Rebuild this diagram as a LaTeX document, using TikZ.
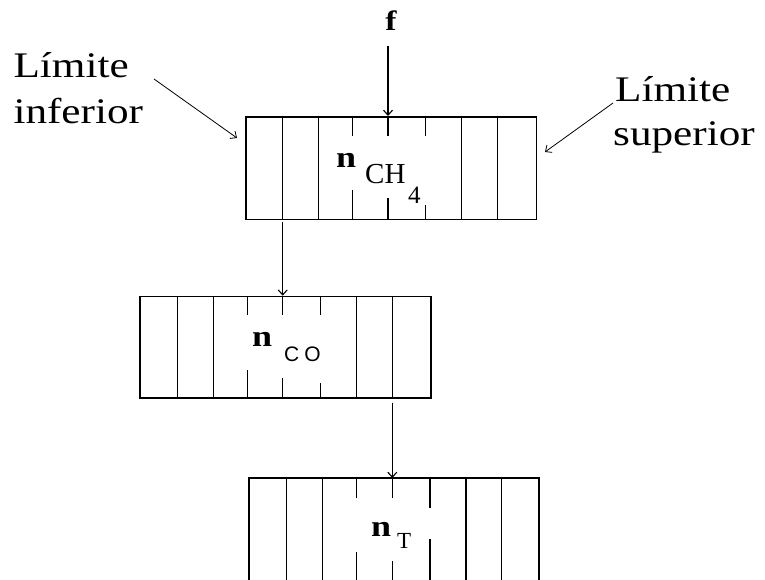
\documentclass[tikz,border=0pt]{standalone}
\usepackage{fontspec}
\setmainfont{Liberation Serif}
\newfontfamily\lbl[FakeStretch=1.2]{Liberation Serif}
\newfontfamily\sublbl{Liberation Sans}
\usetikzlibrary{arrows.meta}
\begin{document}
\begin{tikzpicture}[x=1pt,y=-1pt,
  boxline/.style={line width=1.5pt},
  cellbox/.style={draw,line width=1.5pt,inner sep=0pt,anchor=north west},
  conn/.style={line width=1.1pt,-{Straight Barb[length=5pt,width=9pt]}},
  bigtxt/.style={inner sep=0pt,anchor=base west,font=\lbl\fontsize{36}{40}\selectfont},
  ntxt/.style={inner sep=0pt,anchor=base west,font=\lbl\bfseries\fontsize{30}{32}\selectfont},
  subtxt/.style={inner sep=0pt,anchor=base west}]
\useasboundingbox (0,0) rectangle (765,579);
\fill[white] (0,0) rectangle (765,579);

% ---- box 1 ----
\node[cellbox,minimum width=290.5pt,minimum height=102.5pt] (b1) at (245,116) {};
\foreach \x in {282.7,318.7,461.7,497.3} \draw[boxline] (\x,116) -- (\x,218.5);
\foreach \x/\yb in {352.7/190,388/198,425.7/205} {
  \draw[boxline] (\x,116) -- (\x,136);
  \draw[boxline] (\x,\yb) -- (\x,218.5);
}
\node[ntxt] (n1) at (336,167) {n};
\node[subtxt,font=\fontsize{29}{32}\selectfont] (ch) at (365,183.5) {CH};
\node[subtxt,font=\fontsize{25}{28}\selectfont] (four) at (408,203) {4};

% ---- box 2 ----
\node[cellbox,minimum width=290.7pt,minimum height=101.6pt] (b2) at (139.3,295.7) {};
\foreach \x in {177.3,213.3,356.7,392.7} \draw[boxline] (\x,295.7) -- (\x,397.3);
\foreach \x/\yb in {247.3/370,282.7/378,320.7/383} {
  \draw[boxline] (\x,295.7) -- (\x,315);
  \draw[boxline] (\x,\yb) -- (\x,397.3);
}
\node[ntxt] (n2) at (252,346) {n};
\node[subtxt,font=\sublbl\fontsize{21}{23}\selectfont] (co) at (284,361) {C\hspace{5pt}O};

% ---- box 3 (runs off the bottom) ----
\coordinate (b3nw) at (249,478);
\coordinate (b3ne) at (539,478);
\draw[boxline] (249,585) -- (b3nw) -- (b3ne) -- (539,585);
\foreach \x in {286.7,322.3,466,501.7} \draw[boxline] (\x,478) -- (\x,585);
\foreach \x/\yt/\yb in {356.7/498.3/552,392.3/498/561,430/508/539} {
  \draw[boxline] (\x,478) -- (\x,\yt);
  \draw[boxline] (\x,\yb) -- (\x,585);
}
\node[ntxt] (n3) at (371,536) {n};
\node[subtxt,font=\fontsize{23}{25}\selectfont] (t) at (397,548) {T};

% ---- f input ----
\node[inner sep=0pt,anchor=base,font=\lbl\bfseries\fontsize{28}{30}\selectfont] (f) at (391,30) {f};
\coordinate (fs) at (388,45.7);
\coordinate (b1in) at (388,116);
\draw[conn] (fs) -- (b1in);

% ---- connectors between boxes ----
\coordinate (b1out) at (282.7,222);
\coordinate (b2in) at (282.7,295.7);
\draw[conn] (b1out) -- (b2in);
\coordinate (b2out) at (392.3,402.7);
\coordinate (b3in) at (392.3,478);
\draw[conn] (b2out) -- (b3in);

% ---- labels ----
\node[bigtxt] (liA) at (13.3,77.3) {Límite};
\node[bigtxt] (liB) at (13.3,123.3) {inferior};
\node[bigtxt] (lsA) at (615,101.7) {Límite};
\node[bigtxt] (lsB) at (613,145) {superior};
\coordinate (liS) at (154,79);
\coordinate (liE) at (237,138);
\draw[conn,line width=0.8pt] (liS) -- (liE);
\coordinate (lsS) at (613,103);
\coordinate (lsE) at (545,152);
\draw[conn,line width=0.8pt] (lsS) -- (lsE);
\end{tikzpicture}
\end{document}
